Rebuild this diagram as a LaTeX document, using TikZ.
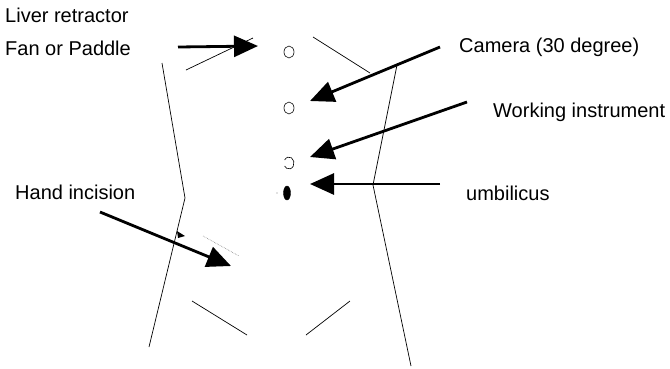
\documentclass[tikz,border=0pt]{standalone}
\usepackage{fontspec}
\setmainfont{Liberation Sans}
\usetikzlibrary{arrows.meta,shapes.geometric}

\begin{document}
\begin{tikzpicture}[
    x=1pt, y=-1pt,
    every node/.style={inner sep=0pt, anchor=base west, font=\fontsize{20}{22}\selectfont},
    pointer/.style={line width=2.8pt, -{Triangle[length=24pt,width=21pt]}},
    outline/.style={line width=0.7pt},
    port/.style={draw, ellipse, line width=0.6pt, minimum width=10pt, minimum height=12pt, anchor=center}
]
\useasboundingbox (0,0) rectangle (670,368);

% labels
\node (liver) at (5,22) {Liver retractor};
\node (fan) at (5,55) {Fan or Paddle};
\node (camera) at (459,52) {Camera (30 degree)};
\node (working) at (493,117) {Working instrument};
\node (hand) at (15,199) {Hand incision};
\node (umbil) at (466,200) {umbilicus};

% ports
\node[port] (port1) at (289,52) {};
\node[port] (port2) at (289,108) {};
\draw[line width=0.6pt] (289,163) ++(150:5pt and 6pt) arc[start angle=150, end angle=-150, x radius=5pt, y radius=6pt];
\node[draw, fill, ellipse, minimum width=7pt, minimum height=14pt, anchor=center] (navel) at (287,193) {};
\fill[gray] (277,193) circle (0.6pt);

% body outline
\draw[outline] (162,63) -- (185,198) -- (149,347);
\draw[outline] (397,65) -- (373,185) -- (411,366);
\draw[outline] (186,70) -- (253,38);
\draw[outline] (313,37) -- (370,73);
\draw[outline] (192,301) -- (247,335);
\draw[outline] (306,335) -- (350,301);
\draw[gray, densely dotted, line width=0.6pt] (203,236) -- (239,256);
\fill (177,231) -- (185,236) -- (178,238) -- cycle;

% arrows
\coordinate (fantail) at (178,47);
\coordinate (fantip) at (258,46);
\coordinate (camtail) at (440,47);
\coordinate (camtip) at (310,101);
\coordinate (worktail) at (467,102);
\coordinate (worktip) at (310,157);
\coordinate (umbiltail) at (440,184);
\coordinate (umbiltip) at (310,184);
\coordinate (handtail) at (100,212);
\coordinate (handtip) at (231,266);

\draw[pointer] (fantail) -- (fantip);
\draw[pointer] (camtail) -- (camtip);
\draw[pointer] (worktail) -- (worktip);
\draw[pointer] (umbiltail) -- (umbiltip);
\draw[pointer] (handtail) -- (handtip);
\end{tikzpicture}
\end{document}
